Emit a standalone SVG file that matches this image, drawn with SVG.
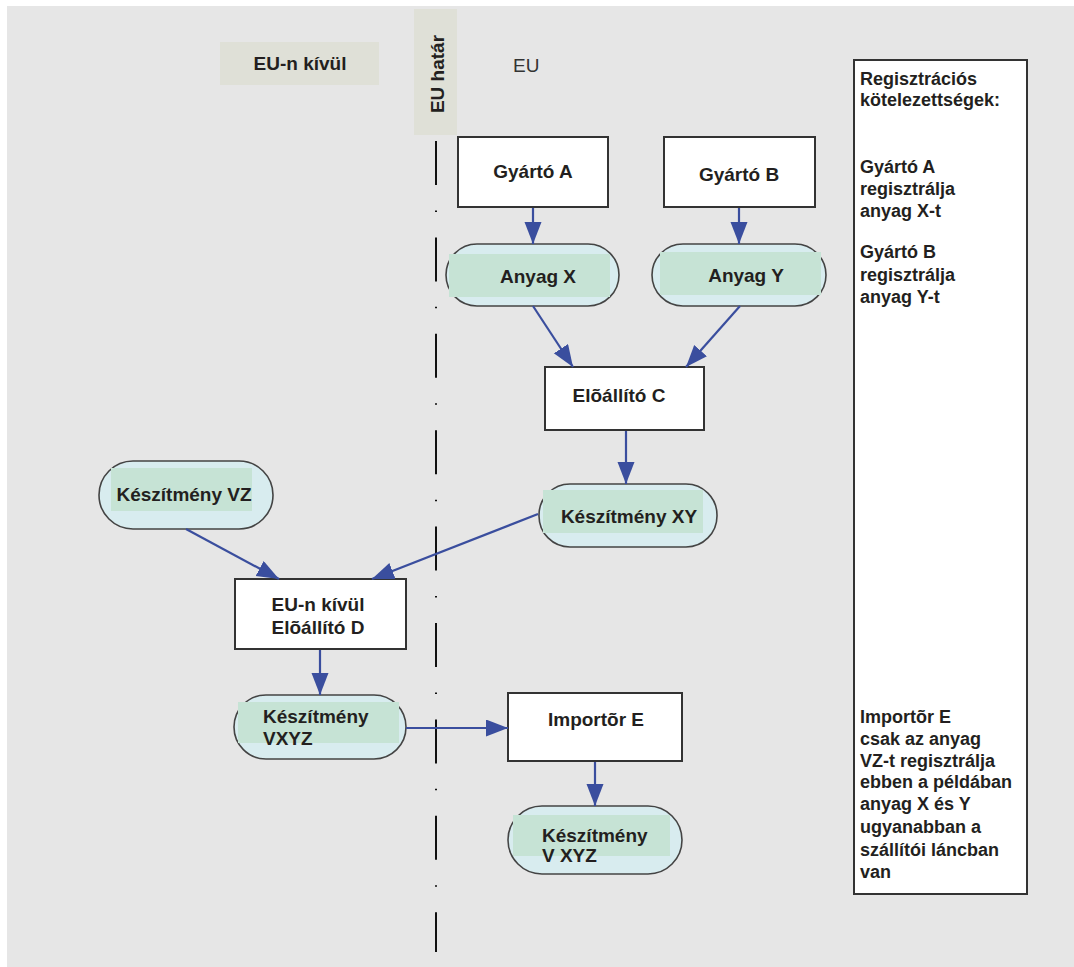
<svg xmlns="http://www.w3.org/2000/svg" width="1074" height="967" viewBox="0 0 1074 967">
<style>
text{font-family:"Liberation Sans",Arial,sans-serif;fill:#231f20}
.b{font-weight:bold;font-size:19px}
.p{font-weight:bold;font-size:18px}
.box{fill:#fff;stroke:#333;stroke-width:2}
.st{fill:#d8ecef;stroke:#444;stroke-width:1.6}
.in{fill:#c6e3d5}
.lab{fill:#dfe0d7}
.c{stroke:#3a4e9e;stroke-width:2.2;fill:none;marker-end:url(#ah)}
</style>
<defs>
<marker id="ah" markerUnits="userSpaceOnUse" markerWidth="24" markerHeight="20" refX="22" refY="8.5" orient="auto">
<path d="M0,0 L22,8.5 L0,17 Z" fill="#3a4e9e"/>
</marker>
</defs>
<rect x="7" y="6" width="1067" height="961" fill="#e6e6e6"/>
<g id="label-outside">
<rect class="lab" x="220" y="42" width="159" height="43"/>
<text class="b" x="300" y="70" text-anchor="middle">EU-n kívül</text>
</g>
<g id="label-border">
<rect class="lab" x="414" y="9" width="43" height="126"/>
<text class="b" transform="translate(444,74) rotate(-90)" text-anchor="middle">EU határ</text>
</g>
<g id="label-eu">
<text x="513" y="72" font-size="19" style="fill:#333">EU</text>
</g>
<g id="border-line">
<line x1="436" y1="141" x2="436" y2="952" stroke="#111" stroke-width="2" stroke-dasharray="44 25.45 1.5 25.45"/>
</g>
<g id="gyarto-a">
<rect class="box" x="458" y="137" width="150" height="70"/>
<text class="b" x="533" y="178" text-anchor="middle">Gyártó A</text>
</g>
<g id="gyarto-b">
<rect class="box" x="664" y="137" width="151" height="70"/>
<text class="b" x="739" y="181" text-anchor="middle">Gyártó B</text>
</g>
<g id="anyag-x">
<rect class="st" x="446" y="244" width="173" height="62" rx="31"/>
<rect class="in" x="449" y="254" width="161" height="43"/>
<text class="b" x="538" y="283" text-anchor="middle">Anyag X</text>
</g>
<g id="anyag-y">
<rect class="st" x="652" y="244" width="174" height="62" rx="31"/>
<rect class="in" x="660" y="252" width="161" height="43"/>
<text class="b" x="746" y="282" text-anchor="middle">Anyag Y</text>
</g>
<g id="eloallito-c">
<rect class="box" x="545" y="367" width="159" height="63"/>
<text class="b" x="619" y="402" text-anchor="middle">Elõállító C</text>
</g>
<g id="keszitmeny-xy">
<rect class="st" x="539" y="484" width="178" height="63" rx="31"/>
<rect class="in" x="543" y="490" width="160" height="43"/>
<text class="b" x="629" y="523" text-anchor="middle">Készítmény XY</text>
</g>
<g id="keszitmeny-vz">
<rect class="st" x="99" y="461" width="174" height="68" rx="34"/>
<rect class="in" x="111" y="468" width="141" height="43"/>
<text class="b" x="184" y="501" text-anchor="middle">Készítmény VZ</text>
</g>
<g id="eloallito-d">
<rect class="box" x="235" y="579" width="171" height="70"/>
<text class="b" x="318" y="611" text-anchor="middle">EU-n kívül</text>
<text class="b" x="318" y="634" text-anchor="middle">Elõállító D</text>
</g>
<g id="keszitmeny-vxyz-1">
<rect class="st" x="234" y="695" width="172" height="64" rx="32"/>
<rect class="in" x="238" y="702" width="161" height="41"/>
<text class="b" x="263" y="723">Készítmény</text>
<text class="b" x="263" y="745">VXYZ</text>
</g>
<g id="importor-e">
<rect class="box" x="508" y="693" width="174" height="68"/>
<text class="b" x="596" y="726" text-anchor="middle">Importõr E</text>
</g>
<g id="keszitmeny-vxyz-2">
<rect class="st" x="508" y="806" width="174" height="68" rx="34"/>
<rect class="in" x="513" y="815" width="157" height="41"/>
<text class="b" x="542" y="842">Készítmény</text>
<text class="b" x="542" y="862">V XYZ</text>
</g>
<g id="notes">
<rect x="854" y="60" width="173" height="834" fill="#fff" stroke="#333" stroke-width="2"/>
<text class="p" x="860"><tspan x="860" y="85">Regisztrációs</tspan><tspan x="860" y="106">kötelezettségek:</tspan></text>
<text class="p" x="860"><tspan x="860" y="173">Gyártó A</tspan><tspan x="860" y="195">regisztrálja</tspan><tspan x="860" y="217">anyag X-t</tspan></text>
<text class="p" x="860"><tspan x="860" y="258">Gyártó B</tspan><tspan x="860" y="281">regisztrálja</tspan><tspan x="860" y="303">anyag Y-t</tspan></text>
<text class="p" x="860"><tspan x="860" y="723">Importõr E</tspan><tspan x="860" y="745">csak az anyag</tspan><tspan x="860" y="767">VZ-t regisztrálja</tspan><tspan x="860" y="788">ebben a példában</tspan><tspan x="860" y="810">anyag X és Y</tspan><tspan x="860" y="833">ugyanabban a</tspan><tspan x="860" y="856">szállítói láncban</tspan><tspan x="860" y="878">van</tspan></text>
</g>
<g id="connectors">
<line class="c" x1="533" y1="208" x2="533" y2="244"/>
<line class="c" x1="739" y1="208" x2="739" y2="244"/>
<line class="c" x1="533" y1="306" x2="573" y2="367"/>
<line class="c" x1="740" y1="306" x2="686" y2="367"/>
<line class="c" x1="626" y1="431" x2="626" y2="484"/>
<line class="c" x1="186" y1="529" x2="279" y2="579"/>
<line class="c" x1="538" y1="514" x2="372" y2="579"/>
<line class="c" x1="320" y1="650" x2="320" y2="695"/>
<line class="c" x1="406" y1="728" x2="508" y2="728"/>
<line class="c" x1="595" y1="762" x2="595" y2="806"/>
</g>
</svg>
